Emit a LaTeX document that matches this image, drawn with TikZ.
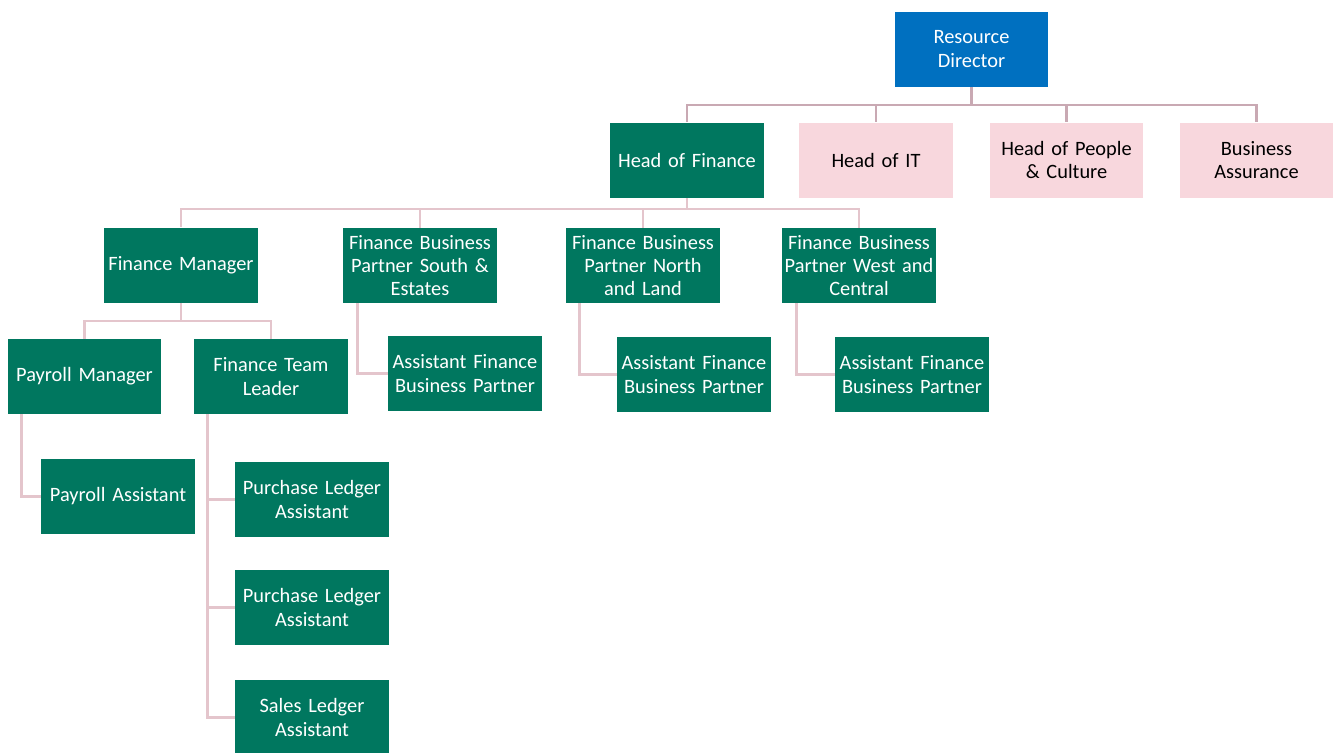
\documentclass[tikz,border=0pt]{standalone}
\usepackage{fontspec}
\setmainfont{Carlito}
\definecolor{rdblue}{HTML}{0070C0}
\definecolor{fingreen}{HTML}{00775F}
\definecolor{softpink}{HTML}{F8D7DD}
\definecolor{topline}{HTML}{C9A9B3}
\definecolor{lowline}{HTML}{E4C5CC}
\tikzset{
    post/.style={rectangle, minimum width=3.08cm, minimum height=1.5cm, inner sep=0pt,
        align=center, text width=3.08cm, font=\fontsize{11.6}{13.2}\selectfont},
    greenpost/.style={post, fill=fingreen, text=white},
    pinkpost/.style={post, fill=softpink, text=black},
    bluepost/.style={post, fill=rdblue, text=white},
    conn/.style={draw=lowline, line width=1.6pt},
    topconn/.style={draw=topline, line width=1.6pt},
}
\begin{document}
\begin{tikzpicture}[x=0.02cm,y=-0.02cm]
    \useasboundingbox (0,0) rectangle (1333,752);

    %top level
    \node[bluepost] (rd) at (971.5,49) {Resource\\Director};
    \node[greenpost] (hf) at (687,160) {Head of Finance};
    \node[pinkpost] (hit) at (876,160) {Head of IT};
    \node[pinkpost] (hpc) at (1066.5,160) {Head of People\\\& Culture};
    \node[pinkpost] (ba) at (1256.5,160) {Business\\Assurance};
    %finance leads
    \node[greenpost] (fm) at (181,265) {Finance Manager};
    \node[greenpost] (fbps) at (420,265.5) {Finance Business\\Partner South \&\\Estates};
    \node[greenpost] (fbpn) at (643,265.5) {Finance Business\\Partner North\\and Land};
    \node[greenpost] (fbpw) at (859,265.5) {Finance Business\\Partner West and\\Central};
    %under finance manager
    \node[greenpost] (pm) at (84.5,376.5) {Payroll Manager};
    \node[greenpost] (ftl) at (271,376.5) {Finance Team\\Leader};
    \node[greenpost] (pa) at (118,496.5) {Payroll Assistant};
    \node[greenpost] (pl1) at (312,499.5) {Purchase Ledger\\Assistant};
    \node[greenpost] (pl2) at (312,607.5) {Purchase Ledger\\Assistant};
    \node[greenpost] (sla) at (312,717.5) {Sales Ledger\\Assistant};
    %assistant partners
    \node[greenpost] (afs) at (465,373.5) {Assistant Finance\\Business Partner};
    \node[greenpost] (afn) at (694,374.5) {Assistant Finance\\Business Partner};
    \node[greenpost] (afw) at (912,374.5) {Assistant Finance\\Business Partner};

    %lines from director
    \coordinate (rdbus) at (971.5,105);
    \draw[topconn] (rd.south) -- (rdbus);
    \foreach \n in {hf,hit,hpc,ba}
        \draw[topconn] (rdbus) -| (\n.north);
    %lines from head of finance
    \coordinate (hfbus) at (687,209);
    \draw[conn] (hf.south) -- (hfbus);
    \foreach \n in {fm,fbps,fbpn,fbpw}
        \draw[conn] (hfbus) -| (\n.north);
    %lines from finance manager
    \coordinate (fmbus) at (181,321);
    \draw[conn] (fm.south) -- (fmbus);
    \foreach \n in {pm,ftl}
        \draw[conn] (fmbus) -| (\n.north);
    %side lines
    \draw[conn] ([xshift=0.3cm]fbps.south west) |- (afs.west);
    \draw[conn] ([xshift=0.28cm]fbpn.south west) |- (afn.west);
    \draw[conn] ([xshift=0.3cm]fbpw.south west) |- (afw.west);
    \draw[conn] ([xshift=0.28cm]pm.south west) |- (pa.west);
    \foreach \n in {pl1,pl2,sla}
        \draw[conn] ([xshift=0.28cm]ftl.south west) |- (\n.west);
\end{tikzpicture}
\end{document}
